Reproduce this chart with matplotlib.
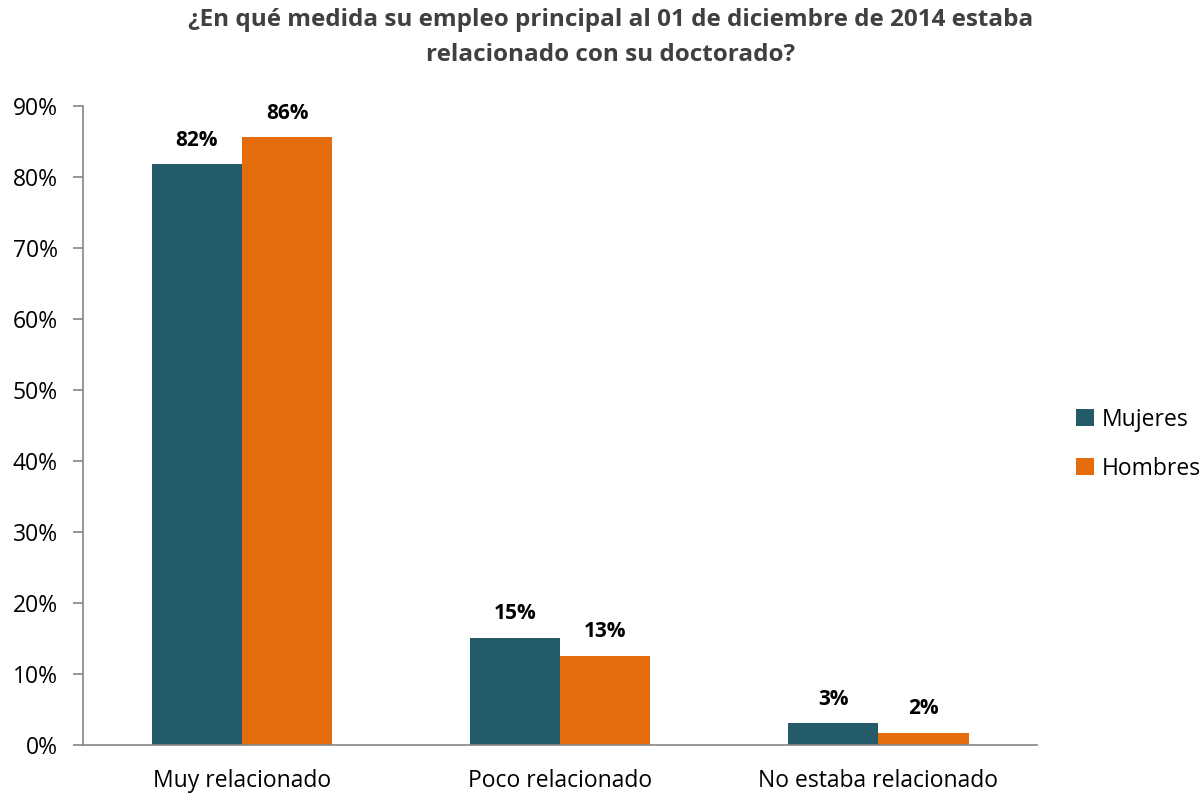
import matplotlib.pyplot as plt
import numpy as np

categories = ['Muy relacionado', 'Poco relacionado', 'No estaba relacionado']
mujeres = [81.8, 15.1, 3.1]
hombres = [85.6, 12.6, 1.7]
mujeres_lbl = ['82%', '15%', '3%']
hombres_lbl = ['86%', '13%', '2%']

plt.rcParams['font.family'] = ['Open Sans', 'DejaVu Sans']

fig = plt.figure(figsize=(12.02, 7.93), dpi=100)
ax = fig.add_axes([0.069, 0.0605, 0.794, 0.8055])

x = np.arange(len(categories))
w = 0.284
b1 = ax.bar(x - w / 2, mujeres, w, color='#245B69', label='Mujeres')
b2 = ax.bar(x + w / 2, hombres, w, color='#E46C0A', label='Hombres')

for bars, lbls in [(b1, mujeres_lbl), (b2, hombres_lbl)]:
    for r, t in zip(bars, lbls):
        ax.text(r.get_x() + r.get_width() / 2, r.get_height() + 1.9, t,
                ha='center', va='bottom', fontsize=15, fontweight='bold', color='black')

ax.set_xlim(-0.5, 2.5)
ax.set_ylim(0, 90)
ax.set_yticks(range(0, 91, 10))
ax.set_yticklabels([f'{v}%' for v in range(0, 91, 10)], fontsize=16.5, color='black')
ax.set_xticks(x)
ax.set_xticklabels(categories, fontsize=16.5, color='black')
ax.tick_params(axis='x', length=0, pad=17)
ax.tick_params(axis='y', length=7, width=1.2, color='#868686', pad=11)
for s in ['top', 'right']:
    ax.spines[s].set_visible(False)
for s in ['left', 'bottom']:
    ax.spines[s].set_color('#868686')
    ax.spines[s].set_linewidth(1.2)

fig.suptitle('¿En qué medida su empleo principal al 01 de diciembre de 2014 estaba\nrelacionado con su doctorado?',
             x=0.508, y=0.99, fontsize=17.5, fontweight='bold', color='#404040', linespacing=1.6)

ax.legend(loc='center left', bbox_to_anchor=(1.041, 0.471), frameon=False, fontsize=16.5,
          borderpad=0, borderaxespad=0, handlelength=0.75, handleheight=0.75,
          handletextpad=0.35, labelspacing=1.1)

fig.savefig('out.png', dpi=100)
